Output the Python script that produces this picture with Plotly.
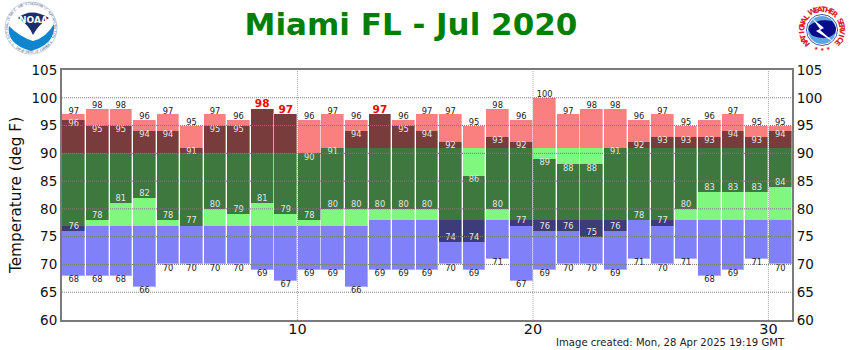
import math
import plotly.graph_objects as go

# ---- data ----
DAYS = list(range(1, 32))
OBS_HIGH = [97, 98, 98, 96, 97, 95, 97, 96, 98, 97, 96, 97, 96, 97, 96, 97, 97, 95, 98, 96, 100, 97, 98, 98, 96, 97, 95, 96, 97, 95, 95]
MEAN_HIGH = [96, 95, 95, 94, 94, 91, 95, 95, 98, 97, 90, 91, 94, 97, 95, 94, 92, 86, 93, 92, 89, 88, 88, 91, 92, 93, 93, 93, 94, 93, 94]
MEAN_LOW = [76, 78, 81, 82, 78, 77, 80, 79, 81, 79, 78, 80, 80, 80, 80, 80, 74, 74, 80, 77, 76, 76, 75, 76, 78, 77, 80, 83, 83, 83, 84]
OBS_LOW = [68, 68, 68, 66, 70, 70, 70, 70, 69, 67, 69, 69, 66, 69, 69, 69, 70, 69, 71, 67, 69, 70, 70, 69, 71, 70, 71, 68, 69, 71, 70]
NORM_HIGH = [90] * 11 + [91] * 20
NORM_LOW = [77] * 13 + [78] * 18
Y_TICKS = [60, 65, 70, 75, 80, 85, 90, 95, 100, 105]
X_TICKS = [10, 20, 30]
TITLE = "Miami FL - Jul 2020"
Y_TITLE = "Temperature (deg F)"
STAMP = "Image created: Mon, 28 Apr 2025 19:19 GMT"

# ---- styling ----
W, H = 850, 350
L, R, T, B = 62, 792, 70, 320
FONT = "DejaVu Sans"
LIGHT = {"red": "#FA8080", "green": "#80F880", "blue": "#8080F8"}
DARK = {"red": "#783C3C", "green": "#3E783E", "blue": "#3C3C78"}
BAR_W = 0.965
PX_PER_DEG = (B - T) / 45


def px(x):
    return (x - L) / (R - L)


def py(y):
    return (B - y) / (B - T)


centers = [d - 0.5 for d in DAYS]


def band(lower, upper, name, color):
    return go.Bar(x=centers, base=lower, y=[max(u - l, 0) for l, u in zip(lower, upper)],
                  width=BAR_W, name=name, marker=dict(color=color, line=dict(width=0)),
                  hoverinfo="skip", showlegend=False)


fig = go.Figure()
# full observed range
fig.add_trace(band(OBS_LOW, [min(h, n) for h, n in zip(OBS_HIGH, NORM_LOW)], "below normal", LIGHT["blue"]))
fig.add_trace(band([max(l, n) for l, n in zip(OBS_LOW, NORM_LOW)], [min(h, n) for h, n in zip(OBS_HIGH, NORM_HIGH)], "normal", LIGHT["green"]))
fig.add_trace(band(NORM_HIGH, OBS_HIGH, "above normal", LIGHT["red"]))
# mean range
fig.add_trace(band(MEAN_LOW, [max(l, min(h, n)) for l, h, n in zip(MEAN_LOW, MEAN_HIGH, NORM_LOW)], "mean below", DARK["blue"]))
fig.add_trace(band([max(l, n) for l, n in zip(MEAN_LOW, NORM_LOW)], [min(h, n) for h, n in zip(MEAN_HIGH, NORM_HIGH)], "mean normal", DARK["green"]))
fig.add_trace(band(NORM_HIGH, [max(h, n) for h, n in zip(MEAN_HIGH, NORM_HIGH)], "mean above", DARK["red"]))
# pale outline of each day's column
fig.add_trace(go.Bar(x=centers, base=OBS_LOW, y=[h - l for h, l in zip(OBS_HIGH, OBS_LOW)], width=BAR_W,
                     marker=dict(color="rgba(0,0,0,0)", line=dict(color="rgba(255,255,255,0.35)", width=1)),
                     hoverinfo="skip", showlegend=False))

tie = [h == m for h, m in zip(OBS_HIGH, MEAN_HIGH)]


def labels(y, text, pos, color, size=8.3, bold=False, yaxis="y", nudge_px=0.0):
    return go.Scatter(x=centers, y=[v - nudge_px / PX_PER_DEG for v in y], text=text, mode="text", textposition=pos, yaxis=yaxis,
                      textfont=dict(family=FONT, size=size, color=color, weight="bold" if bold else "normal"),
                      hoverinfo="skip", showlegend=False)


fig.add_trace(labels(OBS_HIGH, [("" if t else str(v)) for v, t in zip(OBS_HIGH, tie)], "top center", "#222222", nudge_px=1.5))
fig.add_trace(labels(OBS_HIGH, [(str(v) if t else "") for v, t in zip(OBS_HIGH, tie)], "top center", "#FF0000", 10.5, True, "y2", nudge_px=0.8))
fig.add_trace(labels(MEAN_HIGH, [("" if t else str(v)) for v, t in zip(MEAN_HIGH, tie)], "bottom center", "#E4E4E4"))
fig.add_trace(labels(MEAN_LOW, [str(v) for v in MEAN_LOW], "top center", "#E4E4E4"))
fig.add_trace(labels(OBS_LOW, [str(v) for v in OBS_LOW], "bottom center", "#222222"))

shapes = []
for v in Y_TICKS[1:-1]:
    shapes.append(dict(type="line", xref="paper", yref="y", x0=0, x1=1, y0=v, y1=v, layer="above",
                       line=dict(color="#7C7C7C", width=1, dash="1px,1px")))
for v in X_TICKS:
    shapes.append(dict(type="line", xref="x", yref="paper", x0=v, x1=v, y0=0, y1=1, layer="above",
                       line=dict(color="#ABABAB", width=1, dash="1px,1px")))


def P(x, y):
    return f"{px(x):.5f},{py(y):.5f}"


def circle(cx, cy, r, fill, line=None, lw=0):
    shapes.append(dict(type="circle", xref="paper", yref="paper", x0=px(cx - r), x1=px(cx + r), y0=py(cy + r), y1=py(cy - r),
                       fillcolor=fill, line=dict(color=line or fill, width=lw), layer="above"))


def poly(d, fill):
    shapes.append(dict(type="path", xref="paper", yref="paper", path=d, fillcolor=fill, line=dict(width=0), layer="above"))


# --- NOAA emblem ---
circle(31, 28, 26, "#FFFFFF", "#9DB2C8", 0.6)
poly(f"M{P(9, 26)} Q{P(20, 37)} {P(33, 41)} Q{P(46, 38)} {P(54, 24)} Q{P(56, 44)} {P(31, 51)} Q{P(6, 44)} {P(9, 26)} Z", "#0E86CE")
poly(f"M{P(18, 18)} Q{P(31, 7)} {P(49, 18)} Q{P(38, 25)} {P(33, 35)} Q{P(29, 25)} {P(18, 18)} Z", "#1B2F6B")

# --- NWS emblem ---
circle(822, 30, 15.5, "#FFFFFF", "#1F2D8F", 0.8)
circle(822, 30, 14, "#5CA6DC")
poly(f"M{P(809, 26)} Q{P(818, 18)} {P(832, 21)} Q{P(838, 28)} {P(835, 33)} Q{P(828, 41)} {P(813, 36)} Q{P(807, 31)} {P(809, 26)} Z", "#0A0A8C")
poly(f"M{P(812, 18)} L{P(824, 28)} L{P(820, 30)} L{P(835, 43)} L{P(816, 31)} L{P(820, 29)} Z", "#FFFFFF")

annotations = []


def ring(text, cx, cy, r, start, end, size, color, bold=False, flip=False):
    n = len(text)
    for i, ch in enumerate(text):
        if ch == " ":
            continue
        th = start + (end - start) * i / (n - 1)
        a = math.radians(th)
        annotations.append(dict(x=px(cx + r * math.sin(a)), y=py(cy - r * math.cos(a)), xref="paper", yref="paper", text=ch,
                                showarrow=False, textangle=th - 180 if flip else th, xanchor="center", yanchor="middle",
                                font=dict(family=FONT, size=size, color=color, weight="bold" if bold else "normal")))


ring("NATIONAL WEATHER SERVICE", 822, 30, 20.5, -130, 130, 7.5, "#D8242A", True)
for dx in (-6, 0, 6):
    annotations.append(dict(x=px(822 + dx), y=py(49.5 if dx == 0 else 48.5), xref="paper", yref="paper", text="★", showarrow=False,
                            xanchor="center", yanchor="middle", font=dict(family=FONT, size=5, color="#D8242A")))
ring("NATIONAL OCEANIC AND ATMOSPHERIC ADMINISTRATION", 31, 28, 24, -112, 112, 3.2, "#5A6E93")
ring("U.S. DEPARTMENT OF COMMERCE", 31, 28, 24.5, 235, 125, 3.2, "#5A6E93", flip=True)
annotations.append(dict(x=px(33.5), y=py(20), xref="paper", yref="paper", text="NOAA", showarrow=False, xanchor="center", yanchor="middle",
                        font=dict(family=FONT, size=9, color="#FFFFFF", weight="bold")))

annotations.append(dict(x=px(787), y=py(342.5), xref="paper", yref="paper", text=STAMP, showarrow=False, xanchor="right",
                        yanchor="middle", font=dict(family=FONT, size=10.1, color="#222222")))

axis_line = dict(showline=True, linecolor="#7A7A7A", linewidth=2, ticks="", showgrid=False, zeroline=False, automargin=False)
fig.update_layout(
    width=W, height=H, autosize=False, margin=dict(l=L, r=W - R, t=T, b=H - B, pad=0),
    paper_bgcolor="#FFFFFF", plot_bgcolor="#FFFFFF", barmode="overlay", bargap=0,
    title=dict(text=TITLE, x=px(411), y=1 - 24.5 / H, xanchor="center", yanchor="middle", xref="paper",
               font=dict(family=FONT, size=31, color="#008000", weight="bold")),
    xaxis=dict(range=[0, 31], tickvals=X_TICKS, ticktext=[str(v) for v in X_TICKS], tickfont=dict(family=FONT, size=14.5, color="#111111"),
               mirror=True, ticklabelstandoff=-5, **axis_line),
    yaxis=dict(range=[60, 105], tickvals=Y_TICKS, ticktext=[str(v) for v in Y_TICKS], tickfont=dict(family=FONT, size=13.5, color="#111111"),
               mirror=True, title=dict(text=Y_TITLE, standoff=6, font=dict(family=FONT, size=15.3, color="#111111")), **axis_line),
    yaxis2=dict(range=[60, 105], overlaying="y", side="right", anchor="x", tickvals=Y_TICKS, ticktext=[str(v) for v in Y_TICKS],
                tickfont=dict(family=FONT, size=13.5, color="#111111"), **axis_line),
    shapes=shapes, annotations=annotations, showlegend=False,
)
fig.write_html("out.html", config={"displayModeBar": False}, post_script="document.body.style.margin='0';")
